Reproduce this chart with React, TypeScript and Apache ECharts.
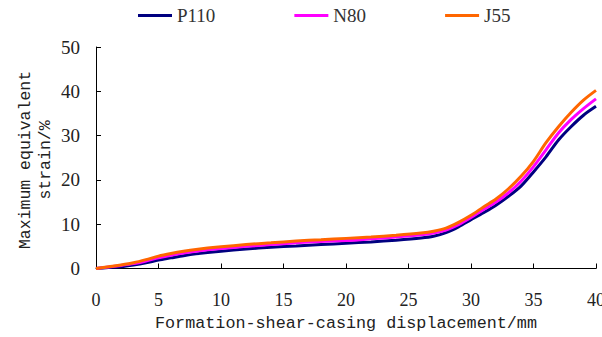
import React, { useEffect, useRef } from "react";
import * as echarts from "echarts";

const displacement = [0, 1, 2, 3, 4, 5, 6, 7, 8, 10, 12, 14, 16, 18, 20, 22, 24, 26, 27, 28, 29, 30, 31, 32, 33, 34, 35, 36, 37, 38, 39, 40];
const p110 = [0, 0.2, 0.4, 0.8, 1.3, 1.9, 2.4, 2.9, 3.3, 3.9, 4.4, 4.8, 5.1, 5.4, 5.7, 6.0, 6.4, 6.9, 7.3, 8.1, 9.4, 11.0, 12.6, 14.3, 16.3, 18.6, 21.8, 25.2, 29.0, 32.0, 34.6, 36.6];
const n80 = [0, 0.35, 0.7, 1.1, 1.7, 2.4, 3.0, 3.5, 3.9, 4.5, 5.0, 5.4, 5.8, 6.1, 6.3, 6.7, 7.1, 7.6, 8.0, 8.7, 9.9, 11.5, 13.3, 15.0, 17.1, 19.7, 23.0, 26.8, 30.6, 33.6, 36.1, 38.3];
const j55 = [0, 0.4, 0.8, 1.3, 2.0, 2.8, 3.4, 3.9, 4.3, 4.9, 5.4, 5.8, 6.2, 6.5, 6.8, 7.1, 7.5, 8.0, 8.4, 9.1, 10.4, 12.0, 13.9, 15.7, 18.0, 20.8, 24.2, 28.4, 32.0, 35.2, 38.0, 40.2];

const seriesNames = ["P110", "N80", "J55"];
const seriesColors = ["#000080", "#FF00FF", "#FF6600"];
const seriesValues = [p110, n80, j55];
const yAxisTitle = "Maximum equivalent\nstrain/%";
const xAxisTitle = "Formation-shear-casing displacement/mm";

export default function App() {
  const ref = useRef<HTMLDivElement>(null);
  useEffect(() => {
    if (!ref.current) return;
    const chart = echarts.init(ref.current, undefined, { renderer: "svg" });
    chart.setOption({
      animation: false,
      backgroundColor: "#ffffff",
      legend: {
        top: 1,
        left: 133,
        itemWidth: 34,
        itemHeight: 3,
        itemGap: 79,
        icon: "rect",
        textStyle: { fontFamily: "Liberation Serif", fontSize: 19, fontWeight: "normal", color: "#333" },
        data: seriesNames,
      },
      graphic: [
        {
          type: "text",
          x: 35,
          y: 160,
          rotation: Math.PI / 2,
          style: {
            text: yAxisTitle,
            align: "center",
            verticalAlign: "middle",
            fontFamily: "Liberation Mono",
            fontSize: 16.5,
            lineHeight: 20,
            fill: "#222",
          },
        },
      ],
      grid: { left: 96, right: 6, top: 47, bottom: 68.5, containLabel: false, outerBoundsMode: "none" },
      xAxis: {
        type: "value",
        min: 0,
        max: 40,
        interval: 5,
        name: xAxisTitle,
        nameLocation: "middle",
        nameGap: 46,
        nameTextStyle: { fontFamily: "Liberation Mono", fontSize: 16.75, color: "#222" },
        axisLine: { lineStyle: { color: "#000", width: 1 } },
        axisTick: { inside: true, length: 5, lineStyle: { color: "#000" } },
        axisLabel: { fontFamily: "Liberation Serif", fontSize: 18, color: "#222", margin: 22 },
        splitLine: { show: false },
      },
      yAxis: {
        type: "value",
        min: 0,
        max: 50,
        interval: 10,
        axisLine: { show: true, lineStyle: { color: "#000", width: 1 } },
        axisTick: { show: true, inside: true, length: 5, lineStyle: { color: "#000" } },
        axisLabel: { fontFamily: "Liberation Serif", fontSize: 19, color: "#222", margin: 16 },
        splitLine: { show: false },
      },
      series: seriesNames.map((name, i) => ({
        name,
        type: "line",
        smooth: 0.3,
        showSymbol: false,
        symbol: "none",
        color: seriesColors[i],
        lineStyle: { width: 3, color: seriesColors[i] },
        data: displacement.map((x, k) => [x, seriesValues[i][k]]),
      })),
    });
    return () => chart.dispose();
  }, []);
  return (
    <div
      ref={ref}
      style={{ position: "fixed", left: 0, top: 0, width: 602, height: 337 }}
    />
  );
}
